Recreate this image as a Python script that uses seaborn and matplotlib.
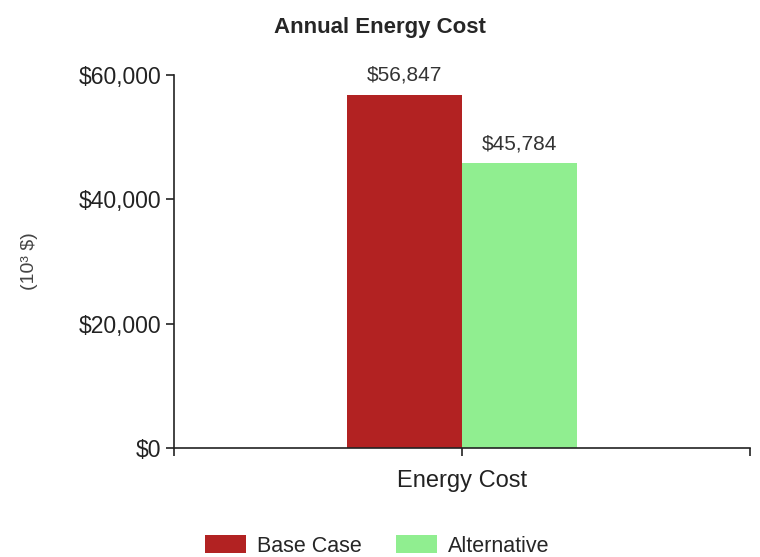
import matplotlib
matplotlib.use("Agg")
import matplotlib.pyplot as plt
import seaborn as sns
import pandas as pd
from matplotlib.patches import Patch

categories = ["Energy Cost"]
series = ["Base Case", "Alternative"]
values = [56847, 45784]
colors = ["#B22222", "#90EE90"]
yticks = [0, 20000, 40000, 60000]
ytick_labels = ["$0", "$20,000", "$40,000", "$60,000"]

sns.set_theme(style="white")
plt.rcParams["font.family"] = ["Liberation Sans", "DejaVu Sans"]

df = pd.DataFrame({"cat": categories * len(series), "series": series, "value": values})

fig = plt.figure(figsize=(7.6, 5.57), dpi=100)
ax = fig.add_axes([174/760, 1-448/557, (750-174)/760, (448-75)/557])

sns.barplot(data=df, x="cat", y="value", hue="series", palette=colors,
            width=0.4, saturation=1, ax=ax, legend=False, edgecolor="none")

ax.set_xlim(-0.5, 0.5)
ax.set_ylim(0, 60000)
ax.set_yticks(yticks)
ax.set_yticklabels(ytick_labels, fontsize=16.5, color="#222222")
ax.set_xticks([-0.5, 0, 0.5])
ax.set_xticklabels(["", categories[0], ""])
ax.tick_params(axis="x", bottom=True, labelsize=17, colors="#222222", length=6,
               width=1.2, pad=10, direction="out")
ax.tick_params(axis="y", left=True, length=6, width=1.2, direction="out", pad=3,
               colors="#222222")
ax.set_xlabel("")
ax.set_ylabel("(10³ $)", fontsize=14, color="#444444")
ax.yaxis.set_label_coords((38-174)/576, 0.5)
for s in ["top", "right"]:
    ax.spines[s].set_visible(False)
for s in ["left", "bottom"]:
    ax.spines[s].set_color("#222222")
    ax.spines[s].set_linewidth(1.2)

for cont in ax.containers:
    ax.bar_label(cont, labels=[f"${v:,.0f}" for v in cont.datavalues],
                 padding=7, fontsize=15, color="#333333")

fig.suptitle("Annual Energy Cost", fontsize=16, fontweight="bold", y=1-27/557, va="center")

handles = [Patch(facecolor=c, edgecolor="none", label=s) for s, c in zip(series, colors)]
fig.legend(handles=handles, loc="center", bbox_to_anchor=(377/760, 1-546/557), ncol=2,
           frameon=False, fontsize=15.5, handlelength=1.9, handleheight=0.85,
           columnspacing=1.6, handletextpad=0.5, borderpad=0)

fig.savefig("out.png", dpi=100)
